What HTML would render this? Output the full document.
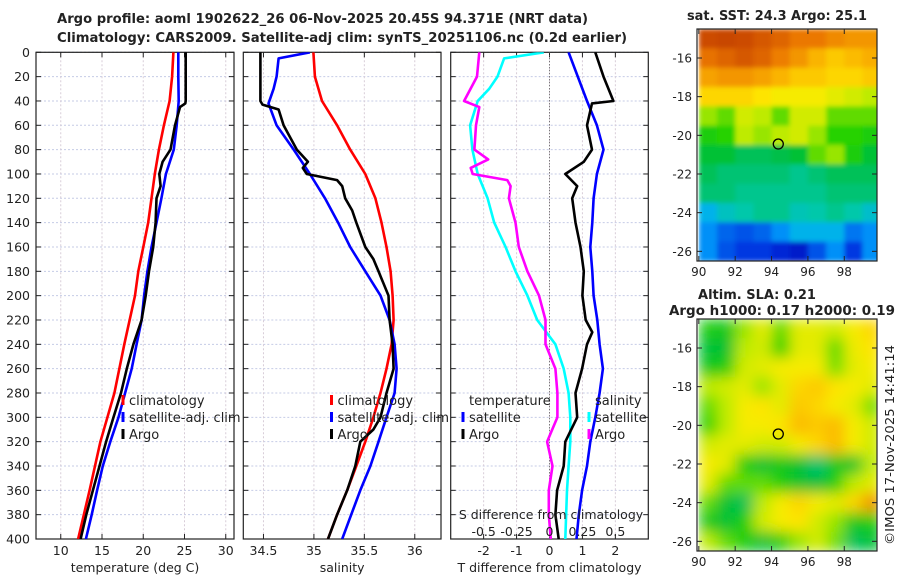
<!DOCTYPE html>
<html><head><meta charset="utf-8"><style>
html,body{margin:0;padding:0;background:#fff;}
svg text{font-family:"DejaVu Sans","Liberation Sans",sans-serif;fill:#222;}
</style></head><body>
<svg id="c" width="900" height="580" viewBox="0 0 900 580" xmlns="http://www.w3.org/2000/svg">
<defs>
<clipPath id="cp1"><rect x="36" y="52.3" width="198" height="486.7"/></clipPath>
<clipPath id="cp2"><rect x="243.3" y="52.3" width="197.7" height="486.7"/></clipPath>
<clipPath id="cp3"><rect x="450.7" y="52.3" width="197.6" height="486.7"/></clipPath>
<clipPath id="cm1"><rect x="697" y="29" width="180" height="232"/></clipPath>
<clipPath id="cm2"><rect x="697" y="319" width="180" height="232"/></clipPath>
<filter id="bl" x="0" y="0" width="1" height="1"><feGaussianBlur stdDeviation="7" edgeMode="duplicate"/></filter>
<filter id="bs" x="0" y="0" width="1" height="1"><feGaussianBlur stdDeviation="2.5" edgeMode="duplicate"/></filter>
</defs>
<text x="57" y="23" font-size="13" font-weight="bold" textLength="531" lengthAdjust="spacingAndGlyphs">Argo profile: aoml 1902622_26 06-Nov-2025 20.45S 94.371E (NRT data)</text>
<text x="57" y="42" font-size="13" font-weight="bold" textLength="570" lengthAdjust="spacingAndGlyphs">Climatology: CARS2009. Satellite-adj clim: synTS_20251106.nc (0.2d earlier)</text>
<text x="777" y="20" font-size="13" font-weight="bold" text-anchor="middle" textLength="180" lengthAdjust="spacingAndGlyphs">sat. SST: 24.3 Argo: 25.1</text>
<text x="757" y="299" font-size="13" font-weight="bold" text-anchor="middle">Altim. SLA: 0.21</text>
<text x="782" y="315" font-size="13" font-weight="bold" text-anchor="middle" textLength="226" lengthAdjust="spacingAndGlyphs">Argo h1000: 0.17 h2000: 0.19</text>
<text transform="translate(894,445) rotate(-90)" font-size="12.5" text-anchor="middle" textLength="200" lengthAdjust="spacingAndGlyphs">©IMOS 17-Nov-2025 14:41:14</text>
<g id="g"></g>
</svg>
<script>
// ---- profile data (depth in dbar) ----
const depthTicks=[0,20,40,60,80,100,120,140,160,180,200,220,240,260,280,300,320,340,360,380,400];
const tClimD=[0,20,40,60,80,100,120,140,160,180,200,240,280,320,360,400];
const tClim=[23.65,23.5,23.2,22.5,21.9,21.4,21.0,20.6,20.0,19.4,19.0,17.7,16.5,14.8,13.5,12.1];
const tSatD=[0,20,40,60,80,100,120,140,160,180,200,220,240,260,280,300,320,340,360,380,400];
const tSat=[24.25,24.25,24.3,24.05,23.7,22.75,22.2,21.6,21.0,20.5,20.1,19.8,19.2,18.6,17.8,17.0,16.0,15.1,14.4,13.75,13.05];
const tArgoD=[0,20,40,42,45,60,80,90,100,110,120,140,160,180,200,220,240,260,280,300,320,340,360,380,400];
const tArgo=[25.15,25.15,25.15,25.1,24.45,23.85,23.3,22.35,21.95,22.1,21.6,21.5,21.2,20.7,20.3,19.8,18.8,18.0,17.3,16.4,15.5,14.7,13.9,13.1,12.4];
const sClimD=[0,20,40,60,80,100,120,140,160,180,200,220,240,260,280,300,320,340,360,380,400];
const sClim=[34.995,35.01,35.08,35.23,35.36,35.51,35.61,35.67,35.72,35.76,35.78,35.79,35.77,35.72,35.66,35.59,35.51,35.42,35.33,35.23,35.14];
const sSatD=[0,5,20,30,42,60,80,100,120,140,160,180,200,220,240,260,280,300,320,340,360,380,400];
const sSat=[34.96,34.65,34.63,34.6,34.55,34.63,34.8,34.96,35.11,35.24,35.36,35.51,35.66,35.75,35.80,35.82,35.80,35.72,35.64,35.56,35.46,35.37,35.28];
const sArgoD=[0,40,43,47,60,80,90,95,100,105,110,120,130,140,160,170,180,200,220,240,260,280,300,310,320,340,360,380,400];
const sArgo=[34.47,34.47,34.49,34.65,34.70,34.83,34.94,34.89,34.93,35.23,35.28,35.31,35.38,35.42,35.51,35.59,35.64,35.74,35.75,35.78,35.79,35.72,35.66,35.59,35.46,35.41,35.33,35.23,35.14];
const dtSatD=[0,40,60,80,100,120,140,160,180,200,220,240,260,280,300,320,340,360,380,400];
const dtSat=[0.58,1.14,1.44,1.64,1.44,1.34,1.3,1.24,1.3,1.34,1.45,1.52,1.62,1.52,1.39,1.24,1.14,0.99,0.89,0.82];
const dtArgoD=[0,20,40,42,60,80,90,100,110,120,140,160,180,200,220,230,240,260,280,300,320,340,360,380,400];
const dtArgo=[1.39,1.64,1.94,1.29,1.14,1.29,1.04,0.48,0.84,0.69,0.79,0.94,1.04,1.0,1.1,1.3,1.14,0.99,0.79,0.84,0.48,0.43,0.23,0.18,0.28];
const dsSatD=[0,5,20,30,40,60,80,100,120,140,160,180,200,220,240,260,280,300,320,340,360,400];
const dsSat=[-0.043,-0.345,-0.395,-0.458,-0.545,-0.603,-0.585,-0.545,-0.47,-0.42,-0.333,-0.258,-0.168,-0.093,0.045,0.108,0.145,0.158,0.158,0.145,0.133,0.12];
const dsArgoD=[0,20,40,45,60,80,88,95,100,105,110,120,140,160,180,200,220,240,260,280,300,320,340,360,380,400];
const dsArgo=[-0.533,-0.55,-0.648,-0.533,-0.558,-0.57,-0.465,-0.598,-0.583,-0.32,-0.295,-0.308,-0.258,-0.233,-0.168,-0.08,-0.03,-0.03,0.045,0.06,0.06,-0.018,0.023,-0.005,-0.005,0.01];
// ---- map data (rows lat -15..-26, cols lon 90.5..99.5), colour index 0..1 ----
const mapLons=[90,91,92,93,94,95,96,97,98,99];
const mapLats=[-15,-16,-17,-18,-19,-20,-21,-22,-23,-24,-25,-26];
const sstGrid=[
[0.92,0.93,0.92,0.9,0.88,0.85,0.85,0.82,0.8,0.8],
[0.86,0.88,0.9,0.88,0.84,0.8,0.75,0.72,0.74,0.76],
[0.78,0.8,0.8,0.78,0.75,0.72,0.72,0.7,0.7,0.72],
[0.7,0.7,0.7,0.68,0.66,0.66,0.66,0.64,0.62,0.6],
[0.58,0.55,0.62,0.6,0.55,0.62,0.62,0.55,0.55,0.55],
[0.5,0.52,0.6,0.58,0.6,0.62,0.58,0.52,0.52,0.5],
[0.45,0.45,0.42,0.42,0.43,0.45,0.55,0.58,0.5,0.45],
[0.42,0.4,0.4,0.4,0.4,0.38,0.4,0.42,0.42,0.42],
[0.4,0.4,0.38,0.38,0.38,0.38,0.38,0.4,0.4,0.4],
[0.3,0.34,0.36,0.38,0.38,0.35,0.36,0.38,0.36,0.33],
[0.25,0.2,0.18,0.2,0.25,0.3,0.3,0.3,0.22,0.25],
[0.25,0.18,0.15,0.15,0.12,0.1,0.18,0.25,0.15,0.25]];
const slaGrid=[
[0.5,0.48,0.58,0.64,0.55,0.64,0.64,0.62,0.66,0.7],
[0.45,0.45,0.6,0.62,0.52,0.64,0.64,0.55,0.65,0.68],
[0.48,0.5,0.62,0.64,0.66,0.66,0.66,0.56,0.64,0.66],
[0.6,0.62,0.64,0.58,0.64,0.7,0.72,0.68,0.66,0.64],
[0.55,0.6,0.66,0.68,0.64,0.72,0.7,0.66,0.64,0.56],
[0.52,0.6,0.66,0.66,0.68,0.74,0.72,0.74,0.66,0.62],
[0.62,0.64,0.64,0.62,0.62,0.66,0.7,0.74,0.66,0.62],
[0.66,0.64,0.5,0.45,0.48,0.45,0.4,0.48,0.46,0.6],
[0.64,0.55,0.55,0.55,0.5,0.46,0.44,0.5,0.6,0.64],
[0.55,0.45,0.42,0.6,0.66,0.7,0.66,0.64,0.7,0.8],
[0.48,0.45,0.5,0.62,0.66,0.68,0.62,0.58,0.48,0.5],
[0.6,0.55,0.5,0.45,0.5,0.58,0.62,0.56,0.42,0.45]];
const floatPos=[94.371,-20.45];

const NS='http://www.w3.org/2000/svg';
const G=document.getElementById('g');
function mk(tag,attrs,parent){const e=document.createElementNS(NS,tag);for(const k in attrs)e.setAttribute(k,attrs[k]);(parent||G).appendChild(e);return e;}
function txt(x,y,s,size,anchor,parent){const t=mk('text',{x:x,y:y,'font-size':size,'text-anchor':anchor||'middle'},parent);t.textContent=s;return t;}
const yTop=52.3,yBot=539;
const yD=d=>yTop+(d-0)/400*(yBot-yTop);
function lin(d0,d1,r0,r1){return v=>r0+(v-d0)/(d1-d0)*(r1-r0);}

const panels=[
 {x0:36,x1:234,xs:lin(7,31,36,234),ticks:[10,15,20,25,30],lab:'temperature (deg C)',cp:'cp1',name:'temperature'},
 {x0:243.3,x1:441,xs:lin(34.3,36.26,243.3,441),ticks:[34.5,35,35.5,36],lab:'salinity',cp:'cp2',name:'salinity'},
 {x0:450.7,x1:648.3,xs:lin(-3,3,450.7,648.3),ticks:[-2,-1,0,1,2],lab:'T difference from climatology',cp:'cp3',name:'difference'}];

panels.forEach((p,i)=>{
 const pg=mk('g',{});
 
 
 depthTicks.forEach(d=>{const l=mk('line',{x1:p.x0,x2:p.x1,y1:yD(d),y2:yD(d),stroke:'#c5cbe6','stroke-width':1,'stroke-dasharray':'2,2'},pg);
  
  mk('line',{x1:p.x0,x2:p.x0+5,y1:yD(d),y2:yD(d),stroke:'#222'},pg);mk('line',{x1:p.x1,x2:p.x1-5,y1:yD(d),y2:yD(d),stroke:'#222'},pg);});
 p.ticks.forEach(t=>{const x=p.xs(t);
  const l=mk('line',{x1:x,x2:x,y1:yTop,y2:yBot,stroke:'#d8cdd8','stroke-width':1,'stroke-dasharray':'2,2'},pg);
  
  mk('line',{x1:x,x2:x,y1:yBot,y2:yBot-5,stroke:'#222'},pg);mk('line',{x1:x,x2:x,y1:yTop,y2:yTop+5,stroke:'#222'},pg);
  const tl=txt(x,555,String(t),12.5,'middle',pg);});
 const xl=txt((p.x0+p.x1)/2,572,p.lab,12.5,'middle',pg);
 
 const fr=mk('rect',{x:p.x0,y:yTop,width:p.x1-p.x0,height:yBot-yTop,fill:'none',stroke:'#222','stroke-width':1.2},pg);
 
});
depthTicks.forEach(d=>{const t=txt(30,yD(d)+4.5,String(d),12.5,'end');});
const zl=mk('line',{x1:panels[2].xs(0),x2:panels[2].xs(0),y1:yTop,y2:yBot,stroke:'#555','stroke-dasharray':'1,2'});


function series(p,xs,ds,vals,color,name){
 const pts=ds.map((d,i)=>xs(vals[i]).toFixed(1)+','+yD(d).toFixed(1)).join(' ');
 const l=mk('polyline',{points:pts,fill:'none',stroke:color,'stroke-width':2.6,'stroke-linejoin':'round','clip-path':'url(#'+p.cp+')'});
 }
const P=panels;
series(P[0],P[0].xs,tClimD,tClim,'#ff0000','temp-climatology-line');
series(P[0],P[0].xs,tSatD,tSat,'#0000ff','temp-satellite-line');
series(P[0],P[0].xs,tArgoD,tArgo,'#000','temp-argo-line');
series(P[1],P[1].xs,sClimD,sClim,'#ff0000','sal-climatology-line');
series(P[1],P[1].xs,sSatD,sSat,'#0000ff','sal-satellite-line');
series(P[1],P[1].xs,sArgoD,sArgo,'#000','sal-argo-line');
const sxs=v=>P[2].xs(v*4);
series(P[2],sxs,dsSatD,dsSat,'#00ffff','sdiff-satellite-line');
series(P[2],sxs,dsArgoD,dsArgo,'#ff00ff','sdiff-argo-line');
series(P[2],P[2].xs,dtSatD,dtSat,'#0000ff','tdiff-satellite-line');
series(P[2],P[2].xs,dtArgoD,dtArgo,'#000','tdiff-argo-line');
const st=txt(551,519,'S difference from climatology',12.5);
[-0.5,-0.25,0,0.25,0.5].forEach(v=>{const t=txt(sxs(v),536,String(v),12.5);});

function legend(x,y,items,name){
 const lg=mk('g',{});
 items.forEach((it,i)=>{const yy=y+i*17;
  if(it[0])mk('rect',{x:x-1.5,y:yy-10,width:3,height:10,fill:it[0]},lg);
  txt(x+6,yy,it[1],13,'start',lg);});}
legend(123,405,[['#f00','climatology'],['#00f','satellite-adj. clim'],['#000','Argo']],'temp-legend');
legend(331.5,405,[['#f00','climatology'],['#00f','satellite-adj. clim'],['#000','Argo']],'sal-legend');
legend(463,405,[[null,'temperature'],['#00f','satellite'],['#000','Argo']],'tdiff-legend');
legend(589,405,[[null,'salinity'],['#0ff','satellite'],['#f0f','Argo']],'sdiff-legend');

// ---- maps ----
function jet(v){
 const stops=[[0,[0,0,140]],[0.13,[0,40,220]],[0.28,[0,170,255]],[0.36,[0,200,170]],[0.44,[0,190,60]],[0.52,[40,210,0]],[0.6,[190,235,0]],[0.67,[255,235,0]],[0.75,[250,180,0]],[0.85,[235,120,0]],[0.93,[200,70,0]],[1,[150,20,0]]];
 for(let i=1;i<stops.length;i++){if(v<=stops[i][0]){const a=stops[i-1],b=stops[i],f=(v-a[0])/(b[0]-a[0]);
  return 'rgb('+a[1].map((c,k)=>Math.round(c+f*(b[1][k]-c))).join(',')+')';}}
 return 'rgb(150,20,0)';}
function drawMap(y0,grid,name,cp,blur){
 const xs=lin(89.9,99.8,697,877), ys=lin(-14.5,-26.5,y0,y0+232);
 const mg=mk('g',{'clip-path':'url(#'+cp+')'});
 const inner=mk('g',{filter:blur?'url(#bl)':'url(#bs)'},mg);
 grid.forEach((row,r)=>row.forEach((v,c)=>{const lon=mapLons[c],lat=mapLats[r];
  const cell=mk('rect',{x:xs(lon).toFixed(1),y:ys(lat+0.5).toFixed(1),width:(xs(lon+1)-xs(lon)+0.6).toFixed(1),height:(ys(lat-0.5)-ys(lat+0.5)+0.6).toFixed(1),fill:jet(v)},inner);
  }));
 mk('rect',{x:697,y:y0,width:180,height:232,fill:'none',stroke:'#222','stroke-width':1.2});
 [-16,-18,-20,-22,-24,-26].forEach(l=>{mk('line',{x1:877,x2:872,y1:ys(l),y2:ys(l),stroke:'#222'});mk('line',{x1:697,x2:702,y1:ys(l),y2:ys(l),stroke:'#222'});
  const t=txt(692,ys(l)+4.5,String(l),12,'end');});
 [90,92,94,96,98].forEach(l=>{mk('line',{x1:xs(l),x2:xs(l),y1:y0+232,y2:y0+227,stroke:'#222'});mk('line',{x1:xs(l),x2:xs(l),y1:y0,y2:y0+5,stroke:'#222'});
  const t=txt(xs(l),y0+232+15,String(l),12);});
 const m=mk('circle',{cx:xs(floatPos[0]),cy:ys(floatPos[1]),r:5,fill:'none',stroke:'#000','stroke-width':1.3});
 }
drawMap(29,sstGrid,'sst-map','cm1',false);
drawMap(319,slaGrid,'sla-map','cm2',true);
</script>
</body></html>
